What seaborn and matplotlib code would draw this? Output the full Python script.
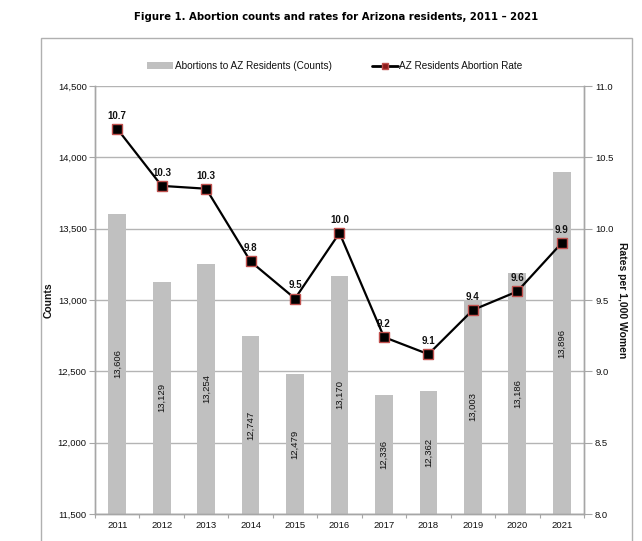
import numpy as np
import pandas as pd
import matplotlib
matplotlib.use("Agg")
import matplotlib.pyplot as plt
import seaborn as sns
from matplotlib.patches import Rectangle, Patch
from matplotlib.lines import Line2D
from matplotlib.ticker import FuncFormatter, MultipleLocator, FixedLocator

years = ["2011", "2012", "2013", "2014", "2015", "2016", "2017", "2018", "2019", "2020", "2021"]
counts = [13606, 13129, 13254, 12747, 12479, 13170, 12336, 12362, 13003, 13186, 13896]
rates = [10.70, 10.30, 10.28, 9.77, 9.51, 9.97, 9.24, 9.12, 9.43, 9.56, 9.90]
rate_labels = ["10.7", "10.3", "10.3", "9.8", "9.5", "10.0", "9.2", "9.1", "9.4", "9.6", "9.9"]

title = "Figure 1. Abortion counts and rates for Arizona residents, 2011 \u2013 2021"
bar_name = "Abortions to AZ Residents (Counts)"
line_name = "AZ Residents Abortion Rate"

sns.set_theme(style="white")
plt.rcParams["font.family"] = ["Liberation Sans", "DejaVu Sans"]

df = pd.DataFrame({"year": years, "count": counts, "rate": rates, "idx": np.arange(len(years))})

W, H = 642, 541
fig = plt.figure(figsize=(W / 100, H / 100), dpi=100)
ax = fig.add_axes([95 / W, 1 - 514 / H, (584 - 95) / W, (514 - 86) / H])
ax2 = ax.twinx()

grey = "#a6a6a6"
txt = "#111111"

# bars
sns.barplot(data=df, x="year", y="count", color="#c0c0c0", width=0.4, ax=ax,
            saturation=1, edgecolor="none", zorder=2)
ax.set_ylim(11500, 14500)
ax.yaxis.set_major_locator(MultipleLocator(500))
ax.yaxis.set_major_formatter(FuncFormatter(lambda v, p: f"{int(v):,}"))
ax.yaxis.grid(True, color="#b4b4b4", lw=1)
ax.set_axisbelow(True)
ax.set_xlabel("")
ax.set_ylabel("Counts", fontsize=7.5, fontweight="bold", color=txt, labelpad=3)

# bar value labels
for i, v in enumerate(counts):
    ax.text(i, (11500 + v) / 2, f"{v:,}", rotation=90, ha="center", va="center",
            fontsize=6.8, color=txt, zorder=5)

# line
sns.lineplot(data=df, x="idx", y="rate", ax=ax2, color="black", lw=1.6,
             marker="s", markersize=6.5, markerfacecolor="black",
             markeredgecolor="#c0504d", markeredgewidth=1, zorder=4)
ax2.set_ylim(8.0, 11.0)
ax2.yaxis.set_major_locator(MultipleLocator(0.5))
ax2.yaxis.set_major_formatter(FuncFormatter(lambda v, p: f"{v:.1f}"))
ax2.set_ylabel("Rates per 1,000 Women", fontsize=7.5, fontweight="bold", color=txt,
               rotation=-90, labelpad=10)
ax2.grid(False)
for i, (r, lab) in enumerate(zip(rates, rate_labels)):
    ax2.annotate(lab, (i, r), xytext=(0, 9.5), textcoords="offset points",
                 ha="center", va="center", fontsize=7, fontweight="bold", color=txt)

ax.set_xlim(-0.5, len(years) - 0.5)
ax2.set_xlim(-0.5, len(years) - 0.5)
ax2.set_xlabel("")

# ticks and spines
ax.xaxis.set_minor_locator(FixedLocator(np.arange(-0.5, len(years), 1.0)))
ax.tick_params(axis="x", which="major", length=0, labelsize=6.8, labelcolor=txt, pad=5)
ax.tick_params(axis="x", which="minor", length=3, color=grey, width=0.8, direction="out", bottom=True)
ax.tick_params(axis="y", length=4, color=grey, width=0.8, labelsize=6.8, labelcolor=txt, left=True, pad=2)
ax2.tick_params(axis="y", length=6, color=grey, width=0.8, labelsize=6.8, labelcolor=txt, right=True, pad=2)
for a in (ax, ax2):
    a.spines["top"].set_visible(False)
    for s in ("left", "right", "bottom"):
        a.spines[s].set_color(grey)
        a.spines[s].set_linewidth(1)

# legend
handles = [Patch(facecolor="#c0c0c0", edgecolor="none"),
           Line2D([], [], color="black", lw=2, marker="s", markersize=4.5,
                  markerfacecolor="#8b1a1a", markeredgecolor="#c0504d")]
fig.legend(handles, [bar_name, line_name], loc="center", bbox_to_anchor=(335 / W, 1 - 66 / H),
           ncol=2, frameon=False, fontsize=7.2, handlelength=2.6, handleheight=0.6,
           handletextpad=0.15, columnspacing=4.0, labelcolor=txt)

# outer frame
fig.patches.append(Rectangle((41 / W, -0.01), (632 - 41) / W, 1 - 38 / H + 0.01,
                             transform=fig.transFigure, fill=False, edgecolor="#b0b0b0", lw=1))

fig.text(336 / W, 1 - 17 / H, title, ha="center", va="center", fontsize=7.3,
         fontweight="bold", family="DejaVu Sans", color="black")

fig.savefig("out.png", dpi=100, facecolor="white")
